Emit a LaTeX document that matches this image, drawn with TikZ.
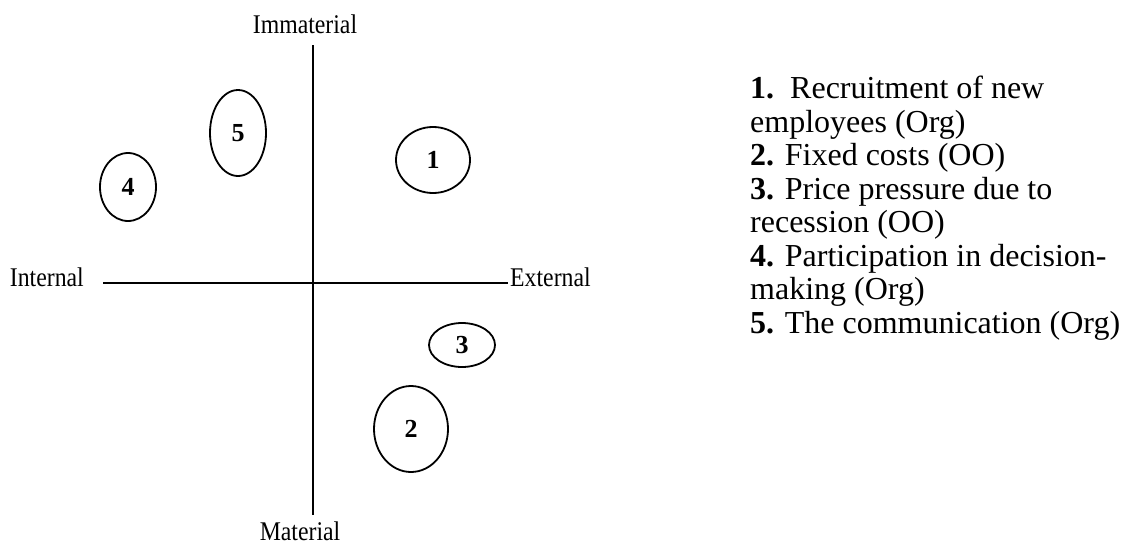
\documentclass[tikz,border=0pt]{standalone}
\usepackage{fontspec}
\setmainfont{Liberation Serif}
\newfontfamily\axfont[FakeStretch=0.88]{Liberation Serif}
\usetikzlibrary{shapes.geometric}
\begin{document}
\begin{tikzpicture}[x=1pt,y=-1pt,
  blob/.style={draw,line width=1.8pt,ellipse,inner sep=0pt,font=\fontsize{26}{26}\selectfont\bfseries},
  axis/.style={line width=1.8pt},
  axlabel/.style={font=\axfont\fontsize{27}{27}\selectfont,inner sep=0pt},
  legend/.style={font=\fontsize{32}{33.5}\selectfont,align=left,inner sep=0pt}]
\useasboundingbox (0,0) rectangle (1122,544);
% axes
\coordinate (top) at (313,45);
\coordinate (bot) at (313,515);
\coordinate (lft) at (103,283);
\coordinate (rgt) at (508,283);
\draw[axis] (top) -- (bot);
\draw[axis] (lft) -- (rgt);
\node[axlabel,anchor=base] (imm) at (305,33) {Immaterial};
\node[axlabel,anchor=base] (mat) at (300,540) {Material};
\node[axlabel,anchor=base east] (int) at (84,286) {Internal};
\node[axlabel,anchor=base west] (ext) at (510,286) {External};
% ellipses
\node[blob,minimum width=74pt,minimum height=66pt] (e1) at (433,160) {1};
\node[blob,minimum width=74pt,minimum height=86pt] (e2) at (411,429) {2};
\node[blob,minimum width=66pt,minimum height=44pt] (e3) at (462,345) {3};
\node[blob,minimum width=56pt,minimum height=68pt] (e4) at (128,187) {4};
\node[blob,minimum width=56pt,minimum height=86pt] (e5) at (238,133) {5};
% legend
\node[legend,anchor=north west] (leg) at (750,76) {%
\textbf{1.}\ \ Recruitment of new\\
employees (Org)\\
\textbf{2.} Fixed costs (OO)\\
\textbf{3.} Price pressure due to\\
recession (OO)\\
\textbf{4.} Participation in decision-\\
making (Org)\\
\textbf{5.} The communication (Org)};
\end{tikzpicture}
\end{document}
